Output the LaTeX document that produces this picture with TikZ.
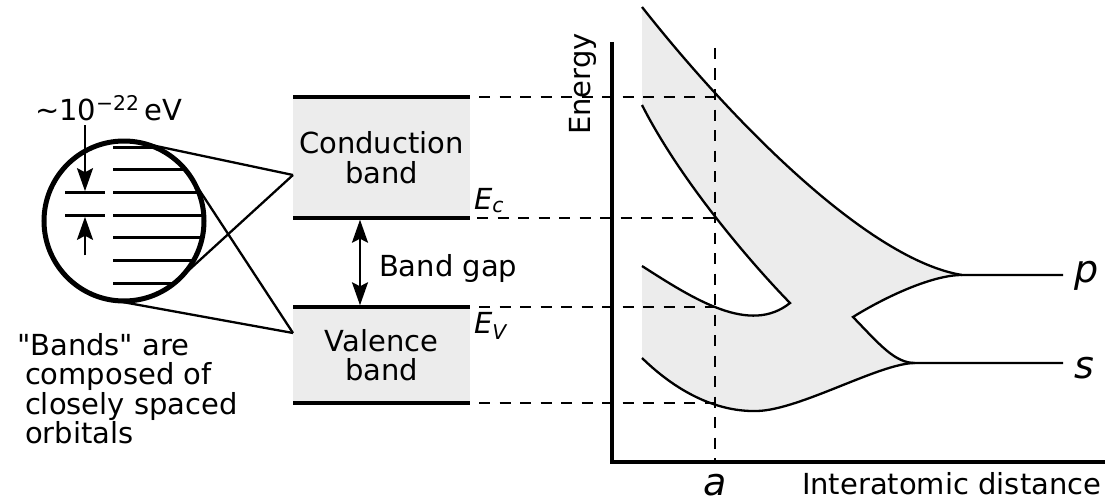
\documentclass[tikz,border=0pt]{standalone}
\usepackage{fontspec}
\setmainfont{DejaVu Sans}[Ligatures=TeXOff]
\usetikzlibrary{arrows.meta, positioning, calc}
\definecolor{bandgray}{HTML}{ECECEC}

\begin{document}
\begin{tikzpicture}[
    x=1pt, y=-1pt,
    every node/.style={font=\fontsize{29}{29.5}\selectfont, inner sep=0pt, outer sep=0pt},
    bandbox/.style={rectangle, fill=bandgray, minimum width=177pt, align=center},
    bandedge/.style={draw=black, line width=3.5pt},
    lens/.style={circle, draw, line width=5pt, minimum size=160pt},
    orbital/.style={draw, line width=3pt},
    zoomline/.style={draw, line width=2.3pt},
    guide/.style={draw, line width=2.3pt, dash pattern=on 11pt off 9.5pt},
    curve/.style={draw, line width=2.3pt, line join=miter, miter limit=10},
    axis/.style={draw, line width=4.5pt},
    gap/.style={draw, line width=2.3pt, {Stealth[length=23pt, width=16pt, inset=4pt]}-{Stealth[length=23pt, width=16pt, inset=4pt]}},
    spacing/.style={draw, line width=2.3pt, -{Stealth[length=23pt, width=16pt, inset=4pt]}},
    bigital/.style={font=\fontsize{38}{40}\selectfont\itshape}
]
    \useasboundingbox (0,0) rectangle (1105,503);

    % Band boxes
    \node [bandbox, minimum height=121pt] (cb) at (381.5,157.5) {Conduction\\band};
    \node [bandbox, minimum height=96pt] (vb) at (381.5,355) {Valence\\band};
    \path [bandedge] (cb.north west) -- (cb.north east);
    \path [bandedge] (cb.south west) -- (cb.south east);
    \path [bandedge] (vb.north west) -- (vb.north east);
    \path [bandedge] (vb.south west) -- (vb.south east);
    \node [anchor=base west] (ec) at (474,209) {\itshape E\textsubscript{c}};
    \node [anchor=base west] (ev) at (474,333) {\itshape E\textsubscript{V}};

    % Band gap
    \coordinate (gtop) at ($(cb.south west)+(67,0)$);
    \coordinate (gbot) at ($(vb.north west)+(67,0)$);
    \path [gap, shorten <=1.7pt, shorten >=1.7pt] (gtop) -- (gbot);
    \node [anchor=base west] (bg) at (379,276) {Band gap};

    % Magnified orbitals
    \node [lens] (mag) at (124,221) {};
    \begin{scope}
      \clip (mag.center) circle (79pt);
      \foreach \k in {0,...,6}
        \path [orbital] (113,{147.3+22.67*\k}) -- +(100,0);
    \end{scope}
    \coordinate (lvA) at (85,192.7);
    \coordinate (lvB) at (85,215.3);
    \path [orbital] ($(lvA)+(-20,0)$) -- ($(lvA)+(20,0)$);
    \path [orbital] ($(lvB)+(-20,0)$) -- ($(lvB)+(20,0)$);
    \node [anchor=base west] (dE) at (35,120) {\textasciitilde10\textsuperscript{−22}\,eV};
    \path [spacing, shorten >=1.5pt] ($(dE.south -| lvA)+(0,5)$) -- (lvA);
    \path [spacing, shorten >=1.5pt] ($(lvB)+(0,40)$) -- (lvB);

    % Zoom lines
    \coordinate (zc) at ($(cb.south west)+(0,-43)$);
    \coordinate (zv) at ($(vb.north west)+(0,26)$);
    \path [zoomline] (zc) -- (tangent cs:node=mag,point={(zc)},solution=1);
    \path [zoomline] (zc) -- (tangent cs:node=mag,point={(zc)},solution=2);
    \path [zoomline] (zv) -- (tangent cs:node=mag,point={(zv)},solution=1);
    \path [zoomline] (zv) -- (tangent cs:node=mag,point={(zv)},solution=2);
    \node [anchor=north west, align=left] (note) at (25,333) {\hspace*{-8pt}"Bands" are\\composed of\\closely spaced\\orbitals};

    % Energy vs distance
    \coordinate (orig) at (612,462);
    \coordinate (ytop) at (612,42);
    \coordinate (xend) at (1105,462);
    \coordinate (a) at (715,462);
    \coordinate (atop) at (715,48);
    \coordinate (u0) at (642,7);
    \coordinate (l0) at (642,105);
    \coordinate (m0) at (642,266);
    \coordinate (b0) at (642,358);
    \coordinate (cusp1) at (790,303);
    \coordinate (cusp2) at (853,317);
    \coordinate (bmin) at (757,411);
    \coordinate (p0) at (962,275);
    \coordinate (s0) at (915,363);
    \coordinate (pe) at (1063,275);
    \coordinate (se) at (1063,363);

    \fill [bandgray] (u0) .. controls (735,125) and (870,260) .. (p0)
        .. controls (930,275) and (880,300) .. (cusp2)
        .. controls (880,345) and (895,363) .. (s0)
        .. controls (880,363) and (800,410) .. (bmin)
        .. controls (720,412) and (680,395) .. (b0)
        -- (m0)
        .. controls (695,300) and (750,335) .. (cusp1)
        .. controls (750,262) and (680,180) .. (l0)
        -- cycle;
    \path [curve] (u0) .. controls (735,125) and (870,260) .. (p0) -- (pe);
    \path [curve] (l0) .. controls (680,180) and (750,262) .. (cusp1)
        .. controls (750,335) and (695,300) .. (m0);
    \path [curve] (p0) .. controls (930,275) and (880,300) .. (cusp2)
        .. controls (880,345) and (895,363) .. (s0) -- (se);
    \path [curve] (b0) .. controls (680,395) and (720,412) .. (bmin)
        .. controls (800,410) and (880,363) .. (s0);

    % Guide lines
    \path [guide] ($(cb.north east)+(9,0)$) -- (cb.north east -| a);
    \path [guide] ($(cb.south east)+(7,0)$) -- (cb.south east -| a);
    \path [guide] ($(vb.north east)+(9,0)$) -- (vb.north east -| a);
    \path [guide] ($(vb.south east)+(9,0)$) -- (vb.south east -| a);
    \path [guide] (atop) -- (a);

    % Axes
    \path [axis] (ytop) -- (orig) -- (xend);
    \node [rotate=90, anchor=base] (ylab) at (590,84) {Energy};
    \node [anchor=base west] (xlab) at (802,494) {Interatomic distance};
    \node [bigital, anchor=base] (alab) at (715,495) {a};
    \node [bigital, anchor=base west] (plab) at (1074,282) {p};
    \node [bigital, anchor=base west] (slab) at (1074,378) {s};
\end{tikzpicture}
\end{document}
